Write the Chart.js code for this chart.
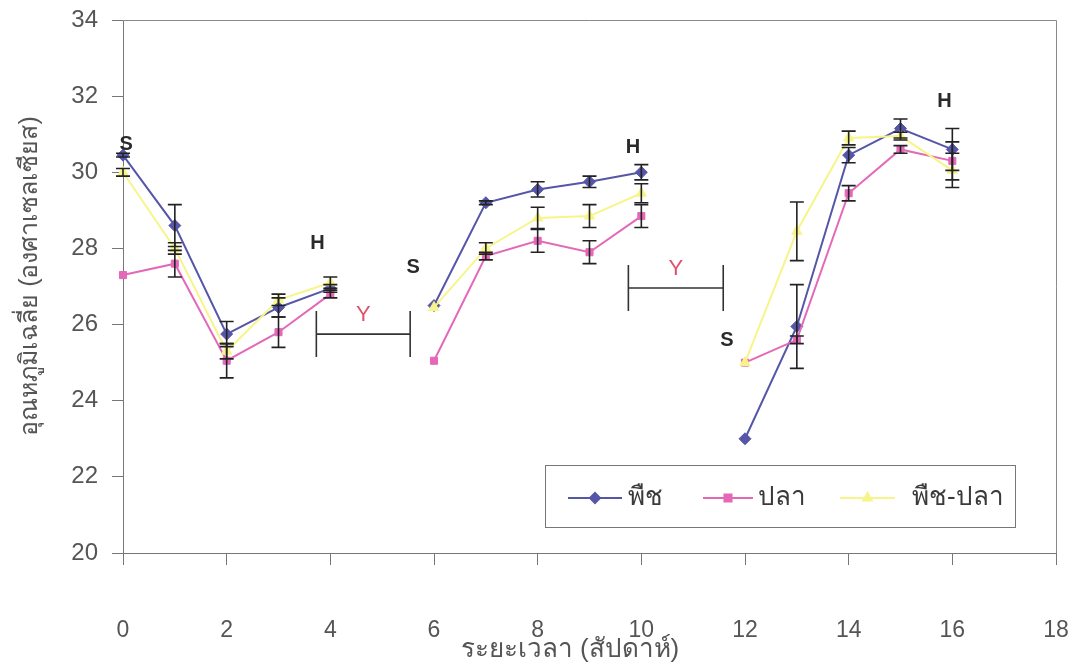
<!DOCTYPE html>
<html>
<head>
<meta charset="utf-8">
<script src="https://cdn.jsdelivr.net/npm/chart.js@4.4.1/dist/chart.umd.min.js"></script>
<style>
html,body{margin:0;padding:0;background:#ffffff;}
#wrap{width:1076px;height:670px;}
</style>
</head>
<body>
<div id="wrap"><canvas id="c" width="1076" height="670"></canvas></div>
<script>
// ---- data ----
const weeks = [0,1,2,3,4,5,6,7,8,9,10,11,12,13,14,15,16];
const plant     = [30.45,28.6,25.75,26.45,26.95,null,26.5,29.2,29.55,29.75,30.0,null,23.0,25.95,30.45,31.15,30.6];
const fish      = [27.3,27.6,25.05,25.8,26.8,null,25.05,27.8,28.2,27.9,28.85,null,25.0,25.6,29.45,30.6,30.3];
const plantFish = [30.0,28.0,25.3,26.65,27.1,null,26.45,28.0,28.8,28.85,29.45,null,25.0,28.45,30.9,30.95,30.05];
const plantErr     = [0.05,0.55,0.33,0.25,0.1,null,0,0.05,0.2,0.15,0.2,null,0,1.1,0.2,0.25,0.55];
const fishErr      = [0,0.35,0.45,0.4,0.1,null,0,0.1,0.3,0.3,0.3,null,0,0.1,0.2,0.1,0.5];
const plantFishErr = [0.1,0.15,0.2,0.15,0.15,null,0,0.15,0.28,0.3,0.25,null,0,0.77,0.18,0.1,0.45];
const seriesNames = ['พืช','ปลา','พืช-ปลา'];
const xTicks = [0,2,4,6,8,10,12,14,16,18];
const yTicks = [20,22,24,26,28,30,32,34];
const xTitle = 'ระยะเวลา (สัปดาห์)';
const yTitle = 'อุณหภูมิเฉลี่ย (องศาเซลเซียส)';
const stageLabels = ['S','H','S','H','S','H'];
const stageWeeks  = [0.06,3.75,5.6,9.84,11.65,15.85];
const stageTemps  = [30.72,28.14,27.49,30.64,25.59,31.87];
const gapLabels = ['Y','Y'];
const gapStart  = [3.73,9.75];
const gapEnd    = [5.54,11.58];
const gapTemp   = [25.75,26.96];

const FONT = "'Liberation Sans', Arial, 'DejaVu Sans', 'Noto Sans', sans-serif";
const colors = ['#5656a8','#e468b8','#f7f58a'];
const errs = [plantErr, fishErr, plantFishErr];

function pts(arr){ return weeks.map((w,i)=>({x:w,y:arr[i]})); }

const overlay = {
  id:'overlay',
  afterDatasetsDraw(chart){
    const ctx = chart.ctx, xs = chart.scales.x, ys = chart.scales.y;
    const ca = chart.chartArea;
    ctx.save();
    // error bars
    ctx.strokeStyle = '#222';
    ctx.lineWidth = 1.6;
    errs.forEach((e,si)=>{
      const vals = [plant,fish,plantFish][si];
      weeks.forEach((w,i)=>{
        if (vals[i]==null || !e[i]) return;
        const px = xs.getPixelForValue(w);
        const t = ys.getPixelForValue(vals[i]+e[i]);
        const b = ys.getPixelForValue(vals[i]-e[i]);
        ctx.beginPath();
        ctx.moveTo(px,t); ctx.lineTo(px,b);
        ctx.moveTo(px-7,t); ctx.lineTo(px+7,t);
        ctx.moveTo(px-7,b); ctx.lineTo(px+7,b);
        ctx.stroke();
      });
    });
    // frame
    ctx.strokeStyle = '#8a8a8a';
    ctx.lineWidth = 1;
    ctx.beginPath();
    ctx.moveTo(ca.left, ca.top+0.5); ctx.lineTo(ca.right+0.5, ca.top+0.5); ctx.lineTo(ca.right+0.5, ca.bottom);
    ctx.stroke();
    // stage letters
    ctx.fillStyle = '#2a2a2a';
    ctx.font = "bold 20px " + FONT;
    ctx.textAlign = 'center'; ctx.textBaseline = 'middle';
    stageLabels.forEach((t,i)=>{
      ctx.fillText(t, xs.getPixelForValue(stageWeeks[i]), ys.getPixelForValue(stageTemps[i]));
    });
    // gap brackets
    ctx.strokeStyle = '#333'; ctx.lineWidth = 1.6;
    gapLabels.forEach((t,i)=>{
      const x1 = xs.getPixelForValue(gapStart[i]), x2 = xs.getPixelForValue(gapEnd[i]);
      const y = ys.getPixelForValue(gapTemp[i]);
      ctx.beginPath();
      ctx.moveTo(x1,y-23); ctx.lineTo(x1,y+23);
      ctx.moveTo(x2,y-23); ctx.lineTo(x2,y+23);
      ctx.moveTo(x1,y); ctx.lineTo(x2,y);
      ctx.stroke();
      ctx.fillStyle = '#e0506a';
      ctx.font = "22px " + FONT;
      ctx.fillText(t, (x1+x2)/2, y-19);
    });
    // legend
    const lx = 545, ly = 465, lw = 470, lh = 62, cy = ly + lh/2 + 2;
    ctx.fillStyle = '#ffffff';
    ctx.fillRect(lx,ly,lw,lh);
    ctx.strokeStyle = '#777'; ctx.lineWidth = 1;
    ctx.strokeRect(lx+0.5,ly+0.5,lw,lh);
    const items = [
      {x1:568,x2:622,tx:628},
      {x1:703,x2:753,tx:758},
      {x1:840,x2:895,tx:912}
    ];
    const shapes = ['rectRot','rect','triangle'];
    items.forEach((it,i)=>{
      ctx.strokeStyle = colors[i]; ctx.lineWidth = 2;
      ctx.beginPath(); ctx.moveTo(it.x1,cy); ctx.lineTo(it.x2,cy); ctx.stroke();
      ctx.fillStyle = colors[i];
      Chart.helpers.drawPoint(ctx,{pointStyle:shapes[i],radius:5,borderWidth:1},(it.x1+it.x2)/2,cy);
      ctx.fill();
      ctx.fillStyle = '#3a3a3a';
      ctx.font = "26px " + FONT;
      ctx.textAlign = 'left'; ctx.textBaseline = 'middle';
      ctx.fillText(seriesNames[i], it.tx, cy);
    });
    // axis titles
    ctx.fillStyle = '#555';
    ctx.font = "26px " + FONT;
    ctx.textAlign = 'center'; ctx.textBaseline = 'middle';
    ctx.fillText(xTitle, 570, 650);
    ctx.save();
    ctx.translate(30, 276);
    ctx.rotate(-Math.PI/2);
    ctx.font = "25px " + FONT;
    ctx.fillText(yTitle, 0, 0);
    ctx.restore();
    ctx.restore();
  }
};

const ds = (label, arr, color, style, radius, order) => ({
  label, data: pts(arr), borderColor: color, backgroundColor: color,
  pointStyle: style, pointRadius: radius, pointBorderWidth: 1, pointBorderColor: color,
  borderWidth: 2, spanGaps: false, tension: 0, clip: false, order
});

new Chart(document.getElementById('c'), {
  type: 'line',
  data: {
    datasets: [
      ds(seriesNames[0], plant, colors[0], 'rectRot', 6, 3),
      ds(seriesNames[1], fish, colors[1], 'rect', 5, 2),
      ds(seriesNames[2], plantFish, colors[2], 'triangle', 6, 1)
    ]
  },
  options: {
    responsive: false,
    devicePixelRatio: 1,
    animation: false,
    layout: { padding: { top: 20, right: 20, left: 0, bottom: 0 } },
    plugins: { legend: { display: false }, tooltip: { enabled: false } },
    scales: {
      x: {
        type: 'linear', min: 0, max: 18,
        afterBuildTicks: s => { s.ticks = xTicks.map(v=>({value:v})); },
        afterFit: s => { s.height = 117; s.paddingLeft = 0; s.paddingRight = 0; },
        ticks: { color: '#555', font: { size: 23, family: FONT }, padding: 52, maxRotation: 0 },
        grid: { drawOnChartArea: false, tickLength: 12, color: '#777' },
        border: { color: '#777', width: 1 }
      },
      y: {
        min: 20, max: 34,
        afterBuildTicks: s => { s.ticks = yTicks.map(v=>({value:v})); },
        afterFit: s => { s.width = 123; s.paddingTop = 0; s.paddingBottom = 0; },
        ticks: { color: '#555', font: { size: 24, family: FONT }, padding: 14 },
        grid: { drawOnChartArea: false, tickLength: 11, color: '#777' },
        border: { color: '#777', width: 1 }
      }
    }
  },
  plugins: [overlay]
});
</script>
</body>
</html>
